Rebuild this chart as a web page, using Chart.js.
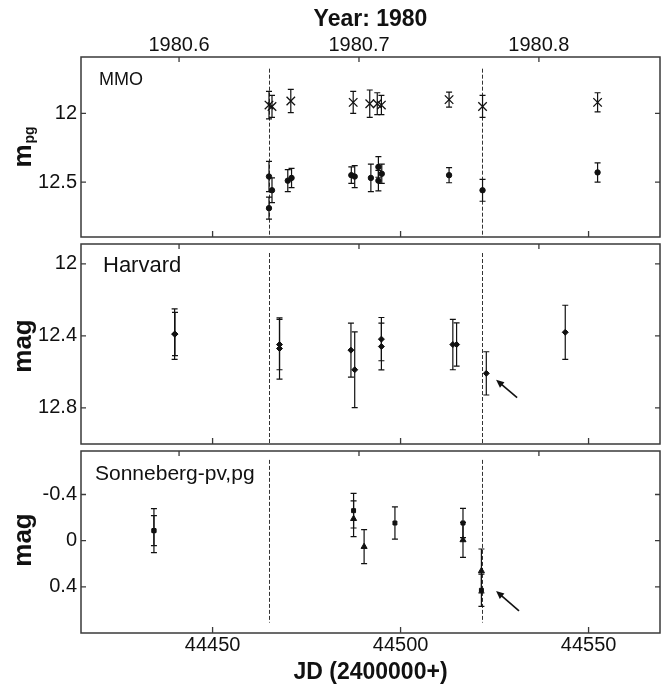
<!DOCTYPE html>
<html lang="en">
<head>
<meta charset="UTF-8">
<title>Light curve 1980</title>
<script src="https://cdn.jsdelivr.net/npm/chart.js@4.4.0/dist/chart.umd.min.js"></script>
<style>
  body { margin: 0; background: #fff; }
  #wrap { position: relative; width: 668px; height: 686px; }
  canvas { position: absolute; left: 0; }
</style>
</head>
<body>
<div id="wrap">
  <canvas id="c1" width="668" height="240" style="top:0px"></canvas>
  <canvas id="c2" width="668" height="207" style="top:240px"></canvas>
  <canvas id="c3" width="668" height="239" style="top:447px"></canvas>
</div>
<script>
// axes
const jdMin = 44415, jdMax = 44569;
const yearMin = 1980.5455, yearMax = 1980.8673;
const jdTicks = [44450, 44500, 44550];
const yearTicks = [1980.6, 1980.7, 1980.8];
const dashJD = [44465.0, 44521.6];

// MMO (m_pg)
const mmoTicks = [12, 12.5];
const mmoCrossJD  = [44465.0, 44465.8, 44470.8, 44487.4, 44491.8, 44493.8, 44494.9, 44512.9, 44521.8, 44552.4];
const mmoCrossMag = [11.94, 11.95, 11.91, 11.92, 11.93, 11.93, 11.94, 11.90, 11.95, 11.92];
const mmoCrossErr = [0.10, 0.08, 0.085, 0.08, 0.10, 0.08, 0.07, 0.055, 0.08, 0.07];
const mmoDotJD  = [44465.0, 44465.0, 44465.8, 44470.0, 44471.0, 44486.9, 44487.8, 44492.1, 44494.1, 44494.1, 44495.0, 44512.9, 44521.8, 44552.4];
const mmoDotMag = [12.46, 12.69, 12.56, 12.49, 12.47, 12.45, 12.46, 12.47, 12.39, 12.49, 12.44, 12.45, 12.56, 12.43];
const mmoDotErr = [0.11, 0.08, 0.09, 0.08, 0.07, 0.06, 0.08, 0.10, 0.075, 0.075, 0.07, 0.055, 0.08, 0.07];

// Harvard
const harvTicks = [12, 12.4, 12.8];
const harvJD  = [44439.9, 44440.0, 44467.8, 44467.8, 44486.8, 44487.8, 44494.9, 44494.9, 44513.9, 44514.9, 44522.8, 44543.8];
const harvMag = [12.39, 12.39, 12.448, 12.47, 12.479, 12.588, 12.418, 12.459, 12.448, 12.448, 12.608, 12.38];
const harvErr = [0.14, 0.12, 0.14, 0.17, 0.15, 0.21, 0.12, 0.13, 0.14, 0.12, 0.12, 0.15];

// Sonneberg pv (squares) / pg (triangles)
const sonTicks = [-0.4, 0, 0.4];
const sonSqJD  = [44434.4, 44434.4, 44487.5, 44498.5, 44516.6, 44521.5];
const sonSqMag = [-0.087, -0.087, -0.26, -0.153, -0.153, 0.43];
const sonSqErr = [0.19, 0.13, 0.15, 0.14, 0.127, 0.14];
const sonTriJD  = [44487.5, 44490.3, 44516.6, 44521.5];
const sonTriMag = [-0.19, 0.052, -0.006, 0.262];
const sonTriErr = [0.155, 0.147, 0.15, 0.19];

Chart.defaults.font.family = '"Liberation Sans", Arial, sans-serif';
Chart.defaults.color = '#111';

function pts(xs, ys) {
  return xs.map((v, i) => ({x: v, y: ys[i]}));
}

const panelDeco = {
  id: 'panelDeco',
  beforeDatasetsDraw(chart, args, o) {
    const ctx = chart.ctx, x = chart.scales.x, y = chart.scales.y;
    ctx.save();
    ctx.strokeStyle = '#333';
    ctx.lineWidth = 1;
    ctx.setLineDash([4, 2]);
    dashJD.forEach(d => {
      const px = Math.round(x.getPixelForValue(d)) + 0.5;
      ctx.beginPath();
      ctx.moveTo(px, y.getPixelForValue(o.dash[0]));
      ctx.lineTo(px, y.getPixelForValue(o.dash[1]));
      ctx.stroke();
    });
    ctx.restore();

    // error bars
    ctx.save();
    ctx.strokeStyle = '#111';
    ctx.lineWidth = 1.2;
    chart.data.datasets.forEach(ds => {
      if (!ds.err) return;
      ds.data.forEach((p, i) => {
        const px = x.getPixelForValue(p.x);
        const y1 = y.getPixelForValue(p.y - ds.err[i]);
        const y2 = y.getPixelForValue(p.y + ds.err[i]);
        ctx.beginPath();
        ctx.moveTo(px, y1); ctx.lineTo(px, y2);
        ctx.moveTo(px - 3, y1); ctx.lineTo(px + 3, y1);
        ctx.moveTo(px - 3, y2); ctx.lineTo(px + 3, y2);
        ctx.stroke();
      });
    });
    ctx.restore();
  },
  afterDraw(chart, args, o) {
    const ctx = chart.ctx, ca = chart.chartArea;
    const x = chart.scales.x, x2 = chart.scales.x2, y = chart.scales.y;
    ctx.save();
    // box
    ctx.strokeStyle = '#3a3a3a';
    ctx.lineWidth = 1.5;
    ctx.strokeRect(ca.left, ca.top, ca.right - ca.left, ca.bottom - ca.top);
    // inward ticks
    ctx.lineWidth = 1.3;
    ctx.beginPath();
    o.yTicks.forEach(v => {
      const py = y.getPixelForValue(v);
      ctx.moveTo(ca.left, py); ctx.lineTo(ca.left + 5, py);
      ctx.moveTo(ca.right, py); ctx.lineTo(ca.right - 5, py);
    });
    jdTicks.forEach(v => {
      const px = x.getPixelForValue(v);
      ctx.moveTo(px, ca.bottom); ctx.lineTo(px, ca.bottom - 6);
    });
    yearTicks.forEach(v => {
      const px = x2.getPixelForValue(v);
      ctx.moveTo(px, ca.top); ctx.lineTo(px, ca.top + 5);
    });
    ctx.stroke();

    // panel label
    ctx.fillStyle = '#111';
    ctx.font = o.label.size + 'px "Liberation Sans", Arial, sans-serif';
    ctx.textAlign = 'left';
    ctx.textBaseline = 'alphabetic';
    ctx.fillText(o.label.text, ca.left + o.label.dx, ca.top + o.label.dy);

    // y title
    const cy = (ca.top + ca.bottom) / 2 + o.yTitle.dy;
    ctx.save();
    ctx.translate(31, cy);
    ctx.rotate(-Math.PI / 2);
    ctx.font = 'bold 26px "Liberation Sans", Arial, sans-serif';
    const w1 = ctx.measureText(o.yTitle.text).width;
    let w2 = 0;
    if (o.yTitle.sub) {
      ctx.font = 'bold 14px "Liberation Sans", Arial, sans-serif';
      w2 = ctx.measureText(o.yTitle.sub).width + 1;
    }
    const start = -(w1 + w2) / 2;
    ctx.font = 'bold 26px "Liberation Sans", Arial, sans-serif';
    ctx.fillText(o.yTitle.text, start, 0);
    if (o.yTitle.sub) {
      ctx.font = 'bold 14px "Liberation Sans", Arial, sans-serif';
      ctx.fillText(o.yTitle.sub, start + w1 + 1, 3);
    }
    ctx.restore();

    // arrow
    if (o.arrow) {
      const tx = x.getPixelForValue(o.arrow[0]), ty = y.getPixelForValue(o.arrow[1]);
      const hx = x.getPixelForValue(o.arrow[2]), hy = y.getPixelForValue(o.arrow[3]);
      const a = Math.atan2(hy - ty, hx - tx);
      ctx.strokeStyle = '#111';
      ctx.lineWidth = 1.6;
      ctx.beginPath();
      ctx.moveTo(tx, ty);
      ctx.lineTo(hx - 4 * Math.cos(a), hy - 4 * Math.sin(a));
      ctx.stroke();
      ctx.beginPath();
      ctx.moveTo(hx, hy);
      ctx.lineTo(hx - 8 * Math.cos(a) + 3.5 * Math.sin(a), hy - 8 * Math.sin(a) - 3.5 * Math.cos(a));
      ctx.lineTo(hx - 8 * Math.cos(a) - 3.5 * Math.sin(a), hy - 8 * Math.sin(a) + 3.5 * Math.cos(a));
      ctx.closePath();
      ctx.fillStyle = '#111';
      ctx.fill();
    }
    ctx.restore();
  }
};

function makePanel(id, p) {
  const tickFont = {size: 20};
  return new Chart(document.getElementById(id), {
    type: 'scatter',
    data: {datasets: p.datasets},
    options: {
      responsive: false,
      animation: false,
      devicePixelRatio: 1,
      layout: {autoPadding: false, padding: {left: 0, right: 8, top: p.padTop, bottom: p.padBottom}},
      plugins: {
        legend: {display: false},
        tooltip: {enabled: false},
        panelDeco: p.deco
      },
      scales: {
        x: {
          type: 'linear', position: 'bottom', min: jdMin, max: jdMax,
          display: p.showJD,
          afterBuildTicks: s => { s.ticks = jdTicks.map(v => ({value: v})); },
          afterFit: s => { s.height = p.jdHeight; },
          grid: {display: false, drawTicks: false},
          border: {display: false},
          ticks: {font: tickFont, color: '#111', padding: 0, maxRotation: 0, callback: v => String(v)},
          title: {display: true, text: 'JD (2400000+)', color: '#111',
                  font: {size: 23, weight: 'bold'}, padding: {top: 0, bottom: 0}}
        },
        x2: {
          type: 'linear', position: 'top', min: yearMin, max: yearMax,
          display: p.showYear,
          afterBuildTicks: s => { s.ticks = yearTicks.map(v => ({value: v})); },
          afterFit: s => { s.height = p.yearHeight; },
          grid: {display: false, drawTicks: false},
          border: {display: false},
          ticks: {font: tickFont, color: '#111', padding: 0, maxRotation: 0, callback: v => v.toFixed(1)},
          title: {display: true, text: 'Year: 1980', color: '#111',
                  font: {size: 23, weight: 'bold'}, padding: {top: 6, bottom: 0}}
        },
        y: {
          type: 'linear', position: 'left', reverse: true, min: p.yMin, max: p.yMax,
          afterBuildTicks: s => { s.ticks = p.yTicks.map(v => ({value: v})); },
          afterFit: s => { s.width = 81; s.paddingTop = 0; s.paddingBottom = 0; },
          grid: {display: false, drawTicks: false},
          border: {display: false},
          ticks: {font: tickFont, color: '#111', padding: 4, callback: v => String(v)}
        }
      }
    },
    plugins: [panelDeco]
  });
}

makePanel('c1', {
  padTop: 0, padBottom: 3, showJD: false, showYear: true, jdHeight: 0, yearHeight: 57,
  yMin: 11.59, yMax: 12.9, yTicks: mmoTicks,
  datasets: [
    {data: pts(mmoCrossJD, mmoCrossMag), err: mmoCrossErr, pointStyle: 'crossRot', pointRadius: 6,
     borderColor: '#111', borderWidth: 1.3, backgroundColor: '#111'},
    {data: pts(mmoDotJD, mmoDotMag), err: mmoDotErr, pointStyle: 'circle', pointRadius: 2.7,
     borderColor: '#111', borderWidth: 1, backgroundColor: '#111'}
  ],
  deco: {dash: [11.675, 12.9], yTicks: mmoTicks,
         label: {text: 'MMO', size: 18, dx: 18, dy: 28},
         yTitle: {text: 'm', sub: 'pg', dy: 0}}
});

makePanel('c2', {
  padTop: 4, padBottom: 3, showJD: false, showYear: false, jdHeight: 0, yearHeight: 0,
  yMin: 11.89, yMax: 13.0, yTicks: harvTicks,
  datasets: [
    {data: pts(harvJD, harvMag), err: harvErr, pointStyle: 'rectRot', pointRadius: 3,
     borderColor: '#111', borderWidth: 1, backgroundColor: '#111'}
  ],
  deco: {dash: [11.94, 13.0], yTicks: harvTicks,
         label: {text: 'Harvard', size: 22, dx: 22, dy: 27.5},
         yTitle: {text: 'mag', dy: 2},
         arrow: [44531.0, 12.742, 44525.4, 12.644]}
});

makePanel('c3', {
  padTop: 4, padBottom: 0, showJD: true, showYear: false, jdHeight: 53, yearHeight: 0,
  yMin: -0.777, yMax: 0.80, yTicks: sonTicks,
  datasets: [
    {data: pts(sonSqJD, sonSqMag), err: sonSqErr, pointStyle: 'rect', pointRadius: 2.8,
     borderColor: '#111', borderWidth: 1, backgroundColor: '#111'},
    {data: pts(sonTriJD, sonTriMag), err: sonTriErr, pointStyle: 'triangle', pointRadius: 3.5,
     borderColor: '#111', borderWidth: 1, backgroundColor: '#111'}
  ],
  deco: {dash: [-0.70, 0.71], yTicks: sonTicks,
         label: {text: 'Sonneberg-pv,pg', size: 21, dx: 14, dy: 29},
         yTitle: {text: 'mag', dy: -2},
         arrow: [44531.5, 0.609, 44525.4, 0.436]}
});
</script>
</body>
</html>
